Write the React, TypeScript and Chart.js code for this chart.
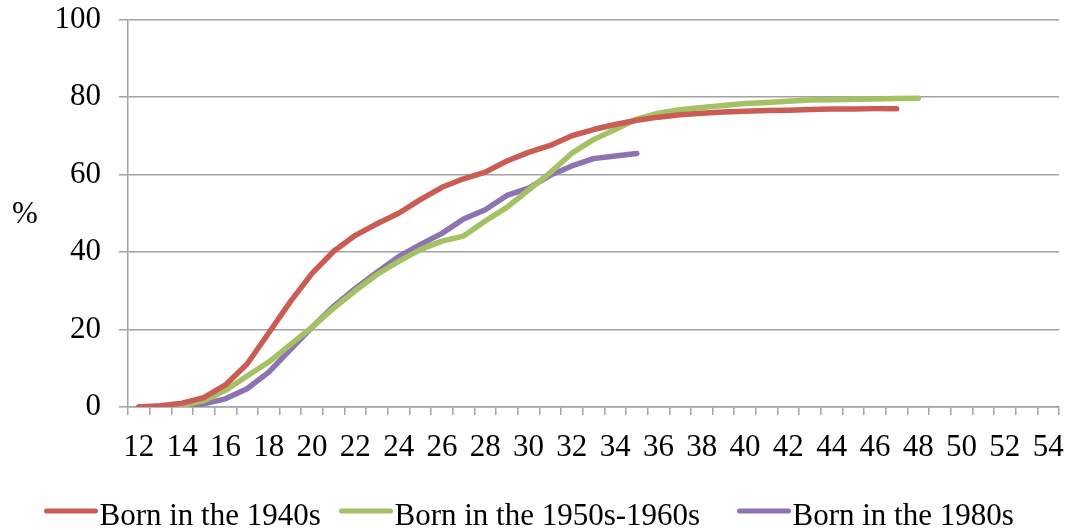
import { useEffect, useRef } from 'react';
import { Chart, registerables } from 'chart.js';
import type { Plugin } from 'chart.js';

Chart.register(...registerables);

// Age categories along the horizontal axis
const ages = [
  12, 13, 14, 15, 16, 17, 18, 19, 20, 21, 22, 23, 24, 25, 26, 27, 28, 29, 30, 31, 32,
  33, 34, 35, 36, 37, 38, 39, 40, 41, 42, 43, 44, 45, 46, 47, 48, 49, 50, 51, 52, 53, 54,
];

const seriesNames = ['Born in the 1940s', 'Born in the 1950s-1960s', 'Born in the 1980s'];

// Cumulative share (%) by age, one array per birth cohort (ages 12..47)
const born1940s = [
  0, 0.3, 1.0, 2.4, 5.7, 11.1, 19.1, 27.2, 34.5, 40.2, 44.3, 47.3, 50.0, 53.5, 56.7, 58.9,
  60.6, 63.5, 65.7, 67.5, 70.0, 71.6, 72.9, 74.0, 74.8, 75.4, 75.8, 76.1, 76.3, 76.5, 76.6,
  76.8, 76.9, 76.9, 77.0, 77.0,
];

// ages 12..48
const born1950s1960s = [
  0, 0.1, 0.4, 1.6, 4.3, 8.0, 11.6, 16.1, 20.6, 25.5, 30.0, 34.2, 37.6, 40.6, 42.8, 44.1,
  48.0, 51.5, 56.0, 60.5, 65.5, 69.0, 71.6, 74.3, 75.8, 76.7, 77.3, 77.8, 78.3, 78.6, 78.9,
  79.2, 79.3, 79.4, 79.5, 79.6, 79.7,
];

// ages 12..35
const born1980s = [
  0, 0.1, 0.2, 0.8, 2.1, 4.7, 9.0, 14.8, 20.6, 26.0, 30.6, 34.8, 38.8, 41.9, 44.8, 48.5,
  50.9, 54.6, 56.5, 59.8, 62.2, 64.1, 64.8, 65.4,
];

const seriesColors = ['#CB5C54', '#A4C163', '#8D73B1'];

const yMin = 0;
const yMax = 100;
const yStep = 20;

const FONT = "'Liberation Serif', 'Times New Roman', serif";
const FONT_SIZE = 31;
const GRID = '#A2A2A2';

// Left edges of the legend entries
const legendItemX = [44, 339, 737];

// Horizontal "%" caption to the left of the value axis
const percentCaption: Plugin = {
  id: 'percentCaption',
  afterDraw(chart) {
    const { ctx, chartArea } = chart;
    ctx.save();
    ctx.font = `${FONT_SIZE}px ${FONT}`;
    ctx.fillStyle = '#000';
    ctx.textAlign = 'center';
    ctx.textBaseline = 'middle';
    ctx.fillText('%', 25, (chartArea.top + chartArea.bottom) / 2 + 2);
    ctx.restore();
  },
};

// Compact legend row under the axis: line sample followed closely by its label
const lineLegend: Plugin = {
  id: 'lineLegend',
  afterDraw(chart) {
    const ctx = chart.ctx;
    ctx.save();
    ctx.font = `${FONT_SIZE}px ${FONT}`;
    ctx.textBaseline = 'alphabetic';
    ctx.textAlign = 'left';
    const lineY = 511;
    const textY = 525;
    chart.data.datasets.forEach((ds, i) => {
      const x = legendItemX[i];
      ctx.strokeStyle = ds.borderColor as string;
      ctx.lineWidth = 5;
      ctx.lineCap = 'round';
      ctx.beginPath();
      ctx.moveTo(x + 2.5, lineY);
      ctx.lineTo(x + 51.5, lineY);
      ctx.stroke();
      ctx.fillStyle = '#000';
      ctx.fillText(ds.label ?? '', x + 55.5, textY);
    });
    ctx.restore();
  },
};

export default function App() {
  const canvasRef = useRef<HTMLCanvasElement | null>(null);

  useEffect(() => {
    const canvas = canvasRef.current;
    if (!canvas) return;
    const seriesData = [born1940s, born1950s1960s, born1980s];
    const chart = new Chart(canvas, {
      type: 'line',
      data: {
        labels: ages.map(String),
        datasets: seriesData.map((values, i) => ({
          label: seriesNames[i],
          data: values,
          borderColor: seriesColors[i],
          backgroundColor: seriesColors[i],
          borderWidth: 5.5,
          borderCapStyle: 'round' as const,
          borderJoinStyle: 'round' as const,
          pointRadius: 0,
          pointHoverRadius: 0,
          fill: false,
          tension: 0,
        })),
      },
      options: {
        responsive: false,
        animation: false,
        events: [],
        layout: { padding: { top: 19.5, right: 10, left: 0, bottom: 0 } },
        plugins: {
          legend: { display: false },
          tooltip: { enabled: false },
        },
        scales: {
          x: {
            type: 'category',
            offset: true,
            grid: {
              offset: true,
              drawOnChartArea: false,
              color: GRID,
              lineWidth: 1.5,
              tickLength: 8,
            },
            border: { color: GRID, width: 1.5 },
            ticks: {
              autoSkip: false,
              maxRotation: 0,
              minRotation: 0,
              padding: 14,
              color: '#000',
              font: { family: FONT, size: FONT_SIZE },
              callback: (_value, index) => (ages[index] % 2 === 0 ? String(ages[index]) : ''),
            },
            afterFit: (scale) => {
              scale.height = 123;
              scale.paddingLeft = 0;
              scale.paddingRight = 0;
            },
          },
          y: {
            min: yMin,
            max: yMax,
            grid: { color: GRID, lineWidth: 1.5, tickLength: 9 },
            border: { color: GRID, width: 1.5 },
            ticks: {
              stepSize: yStep,
              padding: 18,
              color: '#000',
              font: { family: FONT, size: FONT_SIZE },
            },
            afterFit: (scale) => {
              scale.width = 128;
              scale.paddingTop = 0;
              scale.paddingBottom = 0;
            },
          },
        },
      },
      plugins: [percentCaption, lineLegend],
    });
    return () => chart.destroy();
  }, []);

  return (
    <div style={{ position: 'absolute', left: 0, top: 0, width: 1069, height: 530, background: '#fff' }}>
      <canvas ref={canvasRef} width={1069} height={530} style={{ display: 'block' }} />
    </div>
  );
}
